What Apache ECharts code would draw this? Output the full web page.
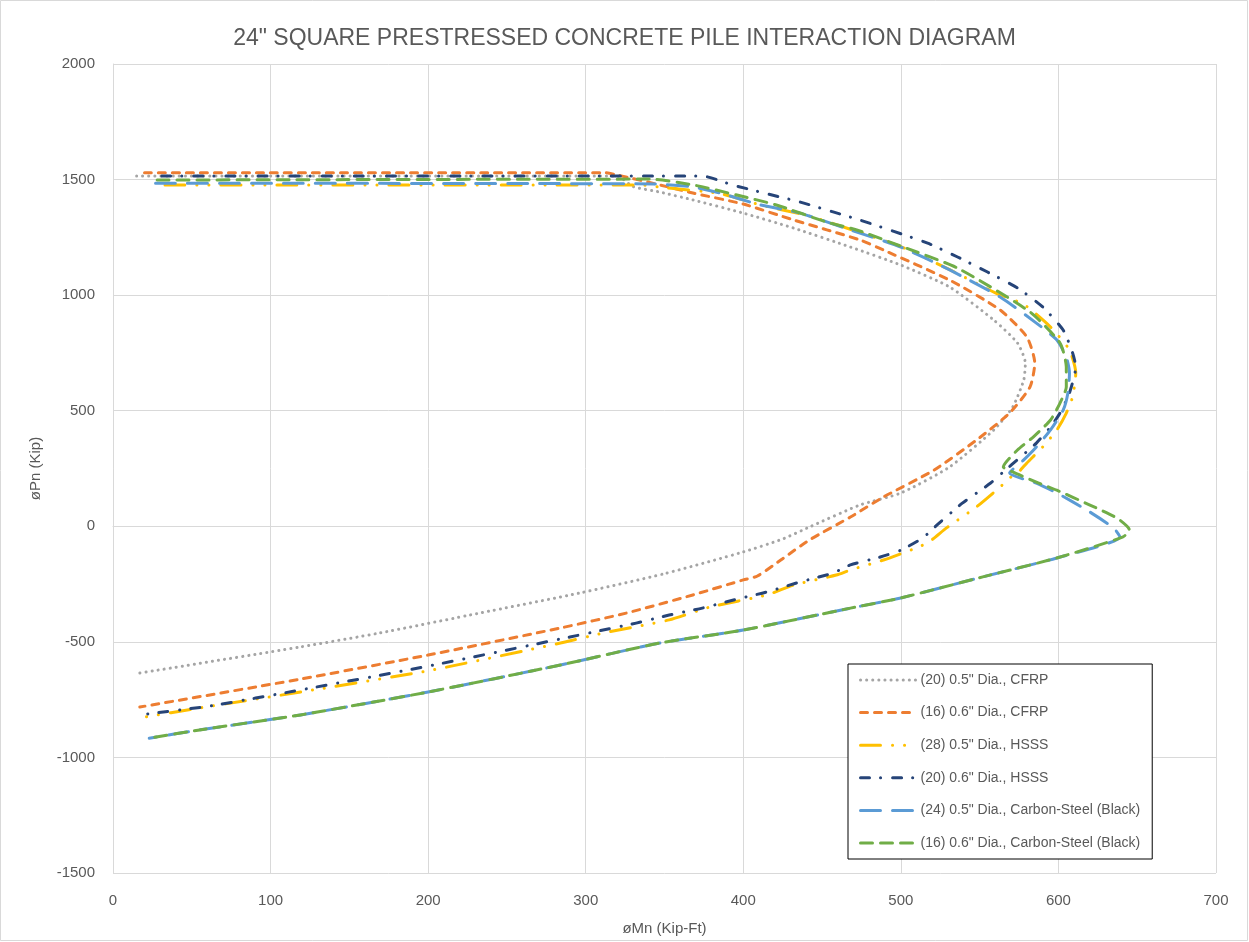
<!DOCTYPE html>
<html>
<head>
<meta charset="utf-8">
<script src="https://cdn.jsdelivr.net/npm/echarts@6/dist/echarts.min.js"></script>
<style>html,body{margin:0;padding:0;background:#fff;}#chart{width:1249px;height:942px;}</style>
</head>
<body>
<div id="chart"></div>
<script>
const titleText = '24" SQUARE PRESTRESSED CONCRETE PILE INTERACTION DIAGRAM';
const xName = 'øMn (Kip-Ft)';
const yName = 'øPn (Kip)';
const seriesNames = [
  '(20) 0.5" Dia., CFRP',
  '(16) 0.6" Dia., CFRP',
  '(28) 0.5" Dia., HSSS',
  '(20) 0.6" Dia., HSSS',
  '(24) 0.5" Dia., Carbon-Steel (Black)',
  '(16) 0.6" Dia., Carbon-Steel (Black)'
];
const cfrp05 = [[15,1515],[320,1515],[330,1470],[347,1446],[368,1412],[400,1355],[432,1290],[468,1208],[500,1130],[531,1035],[559,892],[574,793],[579,706],[578,633],[571,516],[559,417],[531,257],[500,144],[474,92],[442,-3],[425,-55],[400,-111],[350,-205],[296,-289],[233,-375],[169,-462],[119,-522],[17,-635]];
const cfrp06 = [[20,1530],[312,1530],[320,1520],[347,1477],[368,1442],[400,1394],[432,1325],[474,1239],[489,1195],[531,1065],[563,936],[580,819],[585,706],[582,603],[569,490],[548,373],[521,243],[489,127],[468,40],[442,-59],[425,-140],[409,-215],[400,-232],[368,-297],[326,-375],[284,-440],[200,-557],[119,-661],[17,-782]];
const hsss05 = [[33,1477],[334,1477],[350,1465],[385,1440],[411,1390],[442,1342],[470,1280],[500,1210],[531,1110],[560,1010],[578,960],[595,862],[607,763],[611,663],[609,560],[605,490],[599,417],[590,343],[580,274],[574,230],[569,209],[563,170],[548,84],[529,-7],[518,-67],[510,-93],[489,-146],[468,-189],[459,-211],[432,-254],[415,-297],[379,-349],[353,-405],[311,-462],[284,-505],[200,-625],[119,-717],[55,-786],[17,-829]];
const hsss06 = [[31,1515],[374,1515],[393,1477],[413,1442],[436,1403],[457,1360],[474,1325],[517,1225],[536,1165],[555,1100],[574,1031],[590,949],[603,849],[609,750],[611,689],[607,577],[601,490],[595,430],[586,360],[576,300],[565,235],[557,187],[539,100],[523,6],[514,-50],[500,-103],[487,-133],[468,-167],[457,-202],[436,-241],[415,-284],[396,-315],[374,-354],[353,-384],[332,-419],[311,-449],[290,-479],[200,-605],[119,-708],[62,-777],[17,-816]];
const cs05 = [[27,1484],[343,1481],[368,1468],[385,1442],[411,1390],[436,1355],[468,1282],[500,1208],[531,1109],[563,992],[586,879],[599,806],[605,732],[607,663],[606,577],[603,503],[595,417],[586,343],[578,287],[569,230],[586,187],[599,144],[618,70],[635,-7],[639,-46],[599,-137],[552,-219],[500,-310],[468,-354],[400,-449],[347,-505],[284,-600],[200,-717],[119,-816],[55,-881],[23,-917]];
const cs06 = [[28,1498],[341,1502],[368,1477],[396,1433],[421,1390],[453,1316],[472,1282],[500,1212],[536,1117],[582,927],[601,793],[605,689],[605,603],[601,533],[595,460],[584,386],[574,330],[565,257],[571,235],[586,191],[599,156],[620,92],[637,36],[645,-15],[641,-46],[599,-137],[552,-219],[500,-310],[468,-354],[400,-449],[347,-505],[284,-600],[200,-717],[119,-816],[55,-881],[23,-917]];
const allData = [cfrp05, cfrp06, hsss05, hsss06, cs05, cs06];
const colors = ['#A5A5A5','#ED7D31','#FFC000','#264478','#5B9BD5','#70AD47'];
const dashes = [[0.1,6],[7,7],[20,12,0.1,11.9,0.1,11.9],[9,11,0.1,12],[20,12],[12,8]];

const FONT = '"Liberation Sans", Arial, sans-serif';
const chart = echarts.init(document.getElementById('chart'), null, {renderer:'canvas'});
const option = {
  animation: false,
  backgroundColor: '#fff',
  title: {
    text: titleText, left: 'center', top: 22,
    textStyle: {fontFamily: FONT, fontSize: 23, fontWeight: 'normal', color: '#595959'}
  },
  graphic: [{type:'rect', shape:{x:0.5,y:0.5,width:1247,height:940}, style:{fill:'none', stroke:'#D9D9D9', lineWidth:1}}],
  grid: {left: 113, right: 33, top: 64, bottom: 69},
  xAxis: {
    type: 'value', min: 0, max: 700, interval: 100,
    name: xName, nameLocation: 'middle', nameGap: 48,
    nameTextStyle: {fontFamily: FONT, fontSize: 15, color: '#595959'},
    axisLine: {show: true, lineStyle: {color: '#D9D9D9'}},
    axisTick: {show: false},
    axisLabel: {fontFamily: FONT, fontSize: 15, color: '#595959', margin: 20, formatter: v => String(v)},
    splitLine: {show: true, lineStyle: {color: '#D9D9D9', width: 1}}
  },
  yAxis: {
    type: 'value', min: -1500, max: 2000, interval: 500,
    name: yName, nameLocation: 'middle', nameGap: 70, nameRotate: 90,
    nameTextStyle: {fontFamily: FONT, fontSize: 15, color: '#595959'},
    axisLine: {show: true, lineStyle: {color: '#D9D9D9'}},
    axisTick: {show: false},
    axisLabel: {fontFamily: FONT, fontSize: 15, color: '#595959', margin: 18, formatter: v => String(v)},
    splitLine: {show: true, lineStyle: {color: '#D9D9D9', width: 1}}
  },
  legend: {
    orient: 'vertical', left: 848, top: 664,
    padding: [9, 12, 9, 11],
    itemWidth: 55, itemHeight: 14, itemGap: 18.6,
    borderColor: '#000', borderWidth: 1, backgroundColor: '#fff',
    itemStyle: {opacity: 0},
    lineStyle: {width: 3},
    textStyle: {fontFamily: FONT, fontSize: 14, color: '#595959'},
    data: seriesNames
  },
  series: allData.map((d, i) => ({
    name: seriesNames[i], type: 'line', data: d, showSymbol: false, symbol: 'none',
    smooth: 0.2,
    itemStyle: {color: colors[i]},
    lineStyle: {color: colors[i], width: 3, type: dashes[i], cap: 'round', join: 'round'}
  }))
};
chart.setOption(option);
</script>
</body>
</html>
